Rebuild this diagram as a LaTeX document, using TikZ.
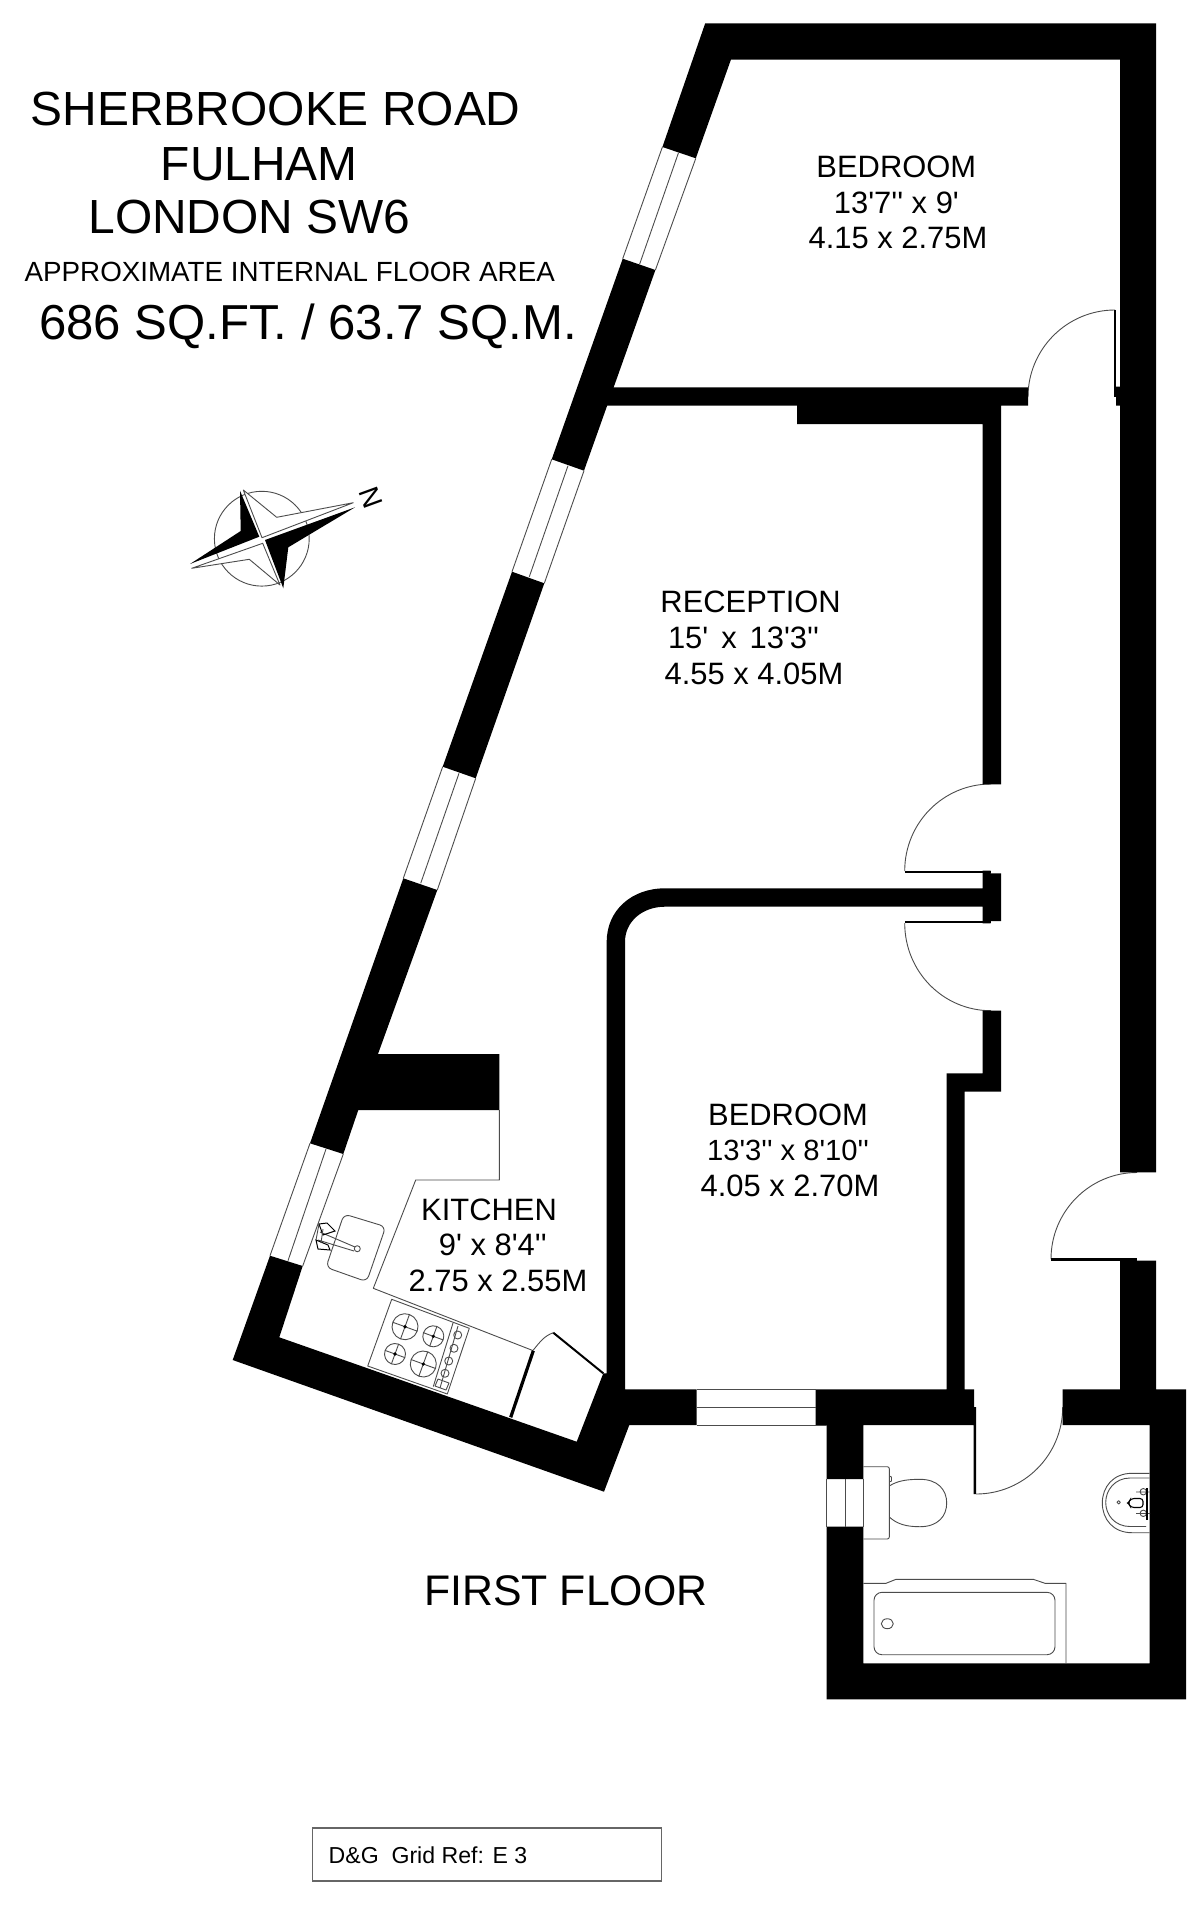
\documentclass[tikz,border=0pt]{standalone}
\usepackage{fontspec}
\newfontfamily\labfont{Liberation Sans}
\tikzset{
  wall/.style={fill=black,draw=none},
  fine/.style={draw=black!70,line width=0.45pt,line join=round},
  leaf/.style={draw=black,line width=1pt},
  txt/.style={inner sep=0pt,anchor=base,text=black},
  txtw/.style={inner sep=0pt,anchor=base west,text=black},
  roomfont/.style={font=\labfont\fontsize{15.45}{15.45}\selectfont},
  titlefont/.style={font=\labfont\fontsize{23.95}{24}\selectfont},
}
\begin{document}
\begin{tikzpicture}[x=0.5pt,y=-0.5pt]
\useasboundingbox (0,0) rectangle (1200,1905);
\fill[white] (0,0) rectangle (1200,1905);

% door swings
\draw[fine] (1028,397) .. controls (1028,349) and (1067,310) .. (1115,310);
\draw[fine] (904.7,871) .. controls (904.7,823) and (943,784) .. (991,784);
\draw[fine] (904.7,923) .. controls (904.7,971.5) and (943,1010.7) .. (991,1010.7);
\draw[fine] (1051,1259) .. controls (1051,1211.5) and (1089.5,1172.5) .. (1137,1172.5);
\draw[fine] (976,1494) .. controls (1024,1494) and (1062.7,1455) .. (1062.7,1407);

% walls
\fill[wall] (705.2,23.3) -- (1156,23.3) -- (1156,1172.3) -- (1120,1172.3) -- (1120,405.7) -- (1116,405.7) -- (1116,396) -- (1114,396) -- (1114,386.7) -- (1120,386.7) -- (1120,59.7) -- (730.9,59.7) -- (695.8,158.3) -- (662.4,147) -- cycle;
\fill[wall] (1113.6,310) rectangle (1116,397);
\fill[wall] (622.7,258.7) -- (655.4,270) -- (584,470.7) -- (551.7,459.3) -- cycle;
\fill[wall] (512,571.7) -- (544.3,583.3) -- (475.7,778.3) -- (442.7,766.7) -- cycle;
\fill[wall] (403.3,878.3) -- (437.3,890) -- (378,1054) -- (499.3,1054) -- (499.3,1110) -- (358.3,1110) -- (343.3,1154) -- (310,1143.3) -- cycle;
\fill[wall] (270,1255.7) -- (302.7,1266) -- (279.3,1337.3) -- (576.7,1441.7) -- (603.3,1373.3) -- (606.7,1373.3) -- (606.7,941.7)
  .. controls (606.7,910) and (632,888.3) .. (665,888.3) -- (982.7,888.3) -- (982.7,870.7) -- (990.7,870.7) -- (990.7,873.3) -- (1001,873.3) -- (1001,921) -- (990.7,921) -- (990.7,923.3) -- (982.7,923.3) -- (982.7,906.7) -- (665,906.7)
  .. controls (642,906.7) and (625,922) .. (625,941.7) -- (625,1389.3) -- (696.7,1389.3) -- (696.7,1425) -- (629.3,1425) -- (604,1491.7) -- (232.7,1360) -- cycle;
\fill[wall] (904.7,870.7) rectangle (990.7,873);
\fill[wall] (904.7,921) rectangle (990.7,923.3);
\fill[wall] (610,387.3) -- (1028,387.3) -- (1028,405.7) -- (1001,405.7) -- (1001,784.3) -- (982.7,784.3) -- (982.7,424) -- (797,424) -- (797,405.7) -- (606,405.7) -- cycle;
\fill[wall] (982.7,1010.7) -- (1001,1010.7) -- (1001,1091.5) -- (964.7,1091.5) -- (964.7,1389.3) -- (974,1389.3) -- (974,1407) -- (976,1407) -- (976,1494) -- (973.5,1494) -- (973.5,1425) -- (863.3,1425) -- (863.3,1479) -- (826.7,1479) -- (826.7,1425) -- (815.7,1425) -- (815.7,1389.3) -- (946.7,1389.3) -- (946.7,1073.3) -- (982.7,1073.3) -- cycle;
\fill[wall] (1062.7,1389.3) -- (1120,1389.3) -- (1120,1260.7) -- (1156,1260.7) -- (1156,1389.3) -- (1186,1389.3) -- (1186,1699.3) -- (826.7,1699.3) -- (826.7,1526.7) -- (863.3,1526.7) -- (863.3,1663.3) -- (1149.7,1663.3) -- (1149.7,1425) -- (1062.7,1425) -- cycle;
\fill[wall] (1051,1258.4) rectangle (1137,1260.7);

% windows
\draw[fine] (662.4,147) -- (622.7,258.7) (695.8,158.3) -- (655.4,270) (678.5,152.7) -- (639.5,264.5);
\draw[fine] (551.7,459.3) -- (512,571.7) (584,470.7) -- (544.3,583.3) (568,465.7) -- (529.3,576.7);
\draw[fine] (442.7,766.7) -- (403.3,878.3) (475.7,778.3) -- (437.3,890) (459,773.3) -- (420.7,883.3);
\draw[fine] (310,1143.3) -- (270,1255.7) (343.3,1154) -- (302.7,1266) (326,1149) -- (288,1260.7);
\draw[fine] (696.7,1389.3) -- (815.7,1389.3) (696.7,1407.3) -- (815.7,1407.3) (696.7,1425) -- (826.7,1425);
\draw[fine] (826.7,1479) -- (826.7,1526.7) (845,1479) -- (845,1526.7) (863.3,1479) -- (863.3,1526.7);

% kitchen units
\draw[fine] (499.3,1110) -- (499.3,1180) -- (415.7,1180) -- (373.3,1288.3) -- (533.3,1350.7);
\draw[fine] (533.3,1350) .. controls (540,1342) and (544,1336) .. (553.3,1332.7);
\draw[draw=black,line width=1.6pt] (533.3,1350.7) -- (510.7,1417.3);
\draw[draw=black,line width=1pt] (553.3,1332.7) -- (603.3,1373.3);
% hob
\draw[fine] (391.7,1299.3) -- (469.3,1328.3) -- (447.3,1394) -- (367.7,1366) -- cycle;
\draw[fine] (453,1323) -- (433.3,1386.5);
\draw[fine] (458,1326) -- (440,1388);
\foreach \cx/\cy/\rr in {405/1326.7/13,433.3/1336.3/10.5,395/1354/10.5,423.3/1364/13}{
  \draw[fine,shift={(\cx,\cy)},rotate=-20] (0,0) circle[radius=\rr] (-\rr,0) -- (\rr,0) (0,-\rr) -- (0,\rr);
  \fill[black] (\cx,\cy) circle[radius=1.8];
}
\foreach \cx/\cy in {457.7/1335,454/1348.3,448.7/1361,445/1373.3}{
  \draw[fine] (\cx,\cy) circle[radius=4];
}
\draw[fine] (438,1379) -- (449,1383) -- (446,1390) -- (435,1386) -- cycle;
% sink
\draw[fine,rounded corners=3pt] (344,1214) -- (385.7,1226.7) -- (366.7,1281.7) -- (326,1267.3) -- cycle;
\draw[fine] (320,1232) -- (355,1247) (318,1240) -- (354,1251);
\draw[fine] (357.3,1248.7) circle[radius=3];
\draw[draw=black,line width=0.5pt] (319,1224) -- (327,1223) -- (335,1231) -- (323,1235) -- cycle;
\draw[draw=black,line width=0.5pt] (316,1240) -- (328,1245) -- (330,1250) -- (318,1249) -- cycle;
\draw[fine] (319,1224) -- (316,1240) (323,1229) -- (321,1243);

% bathroom fittings
\draw[fine] (863.3,1583.3) -- (886,1583.3) -- (896,1579.3) -- (1033.3,1579.3) -- (1045,1583.3) -- (1066,1583.3) -- (1066,1663.3);
\draw[fine,rounded corners=4pt] (874,1592.3) rectangle (1055,1654.7);
\draw[fine] (887.3,1623.7) ellipse[x radius=6,y radius=5];
\draw[fine,rounded corners=1pt] (863.3,1466.7) -- (889.3,1466.7) -- (889.3,1539) -- (863.3,1539);
\draw[fine] (889.3,1486) .. controls (897,1481) and (906,1479.3) .. (920,1479.3) .. controls (938,1479.3) and (946.7,1490) .. (946.7,1503) .. controls (946.7,1516) and (938,1526.7) .. (920,1526.7) .. controls (906,1526.7) and (897,1524) .. (889.3,1517);
\draw[fine] (889.3,1476) -- (891.5,1477) -- (891.5,1481) -- (889.3,1482);
\draw[fine] (1149.7,1473.3) -- (1132,1473.3) .. controls (1113,1473.3) and (1102.3,1487) .. (1102.3,1503) .. controls (1102.3,1519) and (1113,1532.7) .. (1132,1532.7) -- (1149.7,1532.7);
\draw[fine] (1149.7,1478) -- (1130,1478) .. controls (1115,1478) and (1105.7,1490) .. (1105.7,1502.5) .. controls (1105.7,1515) and (1115,1526.5) .. (1130,1526.5) -- (1146,1526.5);
\draw[fine] (1118.7,1502.3) circle[radius=1.7];
\draw[black,line width=0.55pt,rounded corners=1.5pt] (1143,1498.5) -- (1131,1498.5) -- (1128,1503) -- (1131,1507.5) -- (1143,1507.5) -- cycle;
\draw[fine] (1143.3,1491.7) circle[radius=3.2] (1143.3,1513.3) circle[radius=3.2] (1136,1492) -- (1150,1492) (1136,1513.5) -- (1150,1513.5);
\draw[black,line width=0.8pt] (1146.8,1488) -- (1146.8,1520);

% compass
\draw[fine] (261.8,538.7) circle[radius=47.4];
\fill[wall] (240,490.7) -- (259.3,536.7) -- (190,564) -- (240.7,531) -- cycle;
\fill[wall] (355,507.3) -- (265,540) -- (283.3,588.3) -- (288.3,547.3) -- cycle;
\draw[fine,fill=white] (243.3,490) -- (276.7,517.3) -- (353.3,502.7) -- (262,537.7) -- cycle;
\draw[fine,fill=white] (191.7,568.3) -- (249.3,559.3) -- (280,585) -- (262.7,543.3) -- cycle;
\node[inner sep=0pt,rotate=-70,font=\labfont\fontsize{14}{14}\selectfont] (compassN) at (371.3,497.3) {N};

% title
\node[txtw,titlefont] (addr1) at (30.5,125.7) {SHERBROOKE ROAD};
\node[txtw,titlefont] (addr2) at (160.5,180) {FULHAM};
\node[txtw,titlefont] (addr3) at (88,233) {LONDON SW6};
\node[txtw,font=\labfont\fontsize{13.88}{14}\selectfont] (areahead) at (24.3,281.7) {APPROXIMATE INTERNAL FLOOR AREA};
\node[txtw,font=\labfont\fontsize{24.55}{25}\selectfont] (area) at (38.8,339.3) {686 SQ.FT. / 63.7 SQ.M.};

% rooms
\node[txt,roomfont] (bed1a) at (896.3,177.3) {BEDROOM};
\node[txt,roomfont] (bed1b) at (896.4,213.3) {13'7'' x 9'};
\node[txt,roomfont] (bed1c) at (898,248.3) {4.15 x 2.75M};
\node[txt,roomfont] (reca) at (750.6,612) {RECEPTION};
\node[txt,roomfont] (recb) at (743.5,648.6) {15'\kern2.2pt\ x\kern2.2pt\ 13'3''};
\node[txt,roomfont] (recc) at (754,684) {4.55 x 4.05M};
\node[txt,roomfont] (bed2a) at (788,1125) {BEDROOM};
\node[txt,font=\labfont\fontsize{14.6}{15}\selectfont] (bed2b) at (788,1160.5) {13'3'' x 8'10''};
\node[txt,roomfont] (bed2c) at (790,1196) {4.05 x 2.70M};
\node[txt,roomfont] (kita) at (489,1220) {KITCHEN};
\node[txt,roomfont] (kitb) at (492.8,1255.7) {9' x 8'4''};
\node[txt,roomfont] (kitc) at (498,1291.7) {2.75 x 2.55M};
\node[txtw,font=\labfont\fontsize{21.4}{22}\selectfont] (floor) at (424,1605.7) {FIRST FLOOR};

% grid reference
\draw[draw=black!60,line width=0.7pt] (312.3,1828) rectangle (661.7,1881);
\node[txtw,font=\labfont\fontsize{11.55}{12}\selectfont] (grid) at (328.3,1863.3) {D\&G\ \ Grid Ref: E 3};
\end{tikzpicture}
\end{document}
